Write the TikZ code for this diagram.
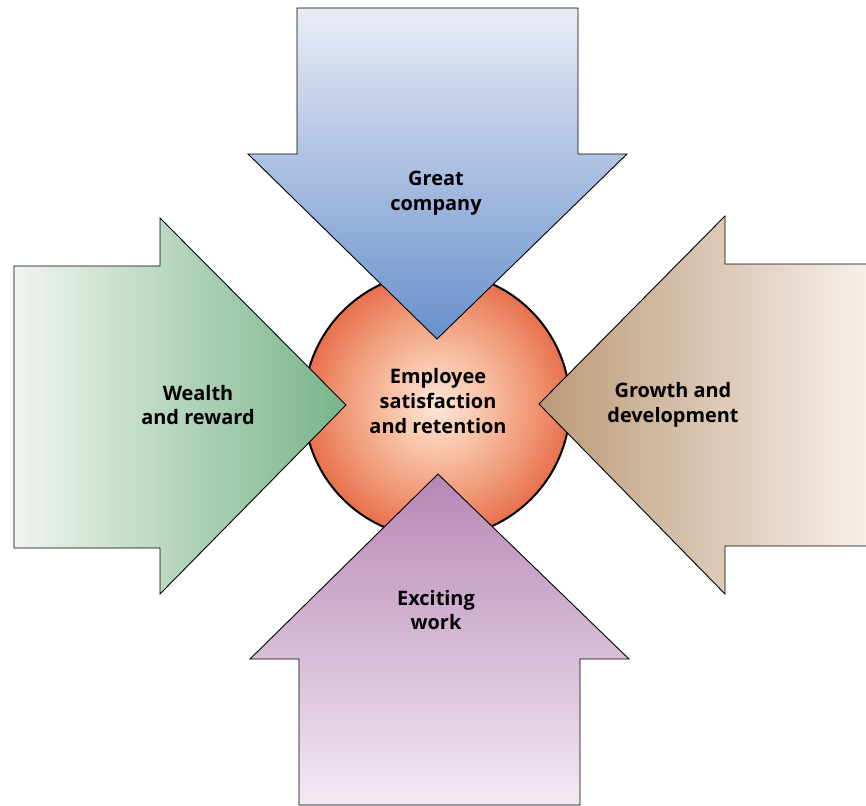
\documentclass[tikz,border=0pt]{standalone}
\usepackage{fontspec}
\setmainfont{Open Sans}

% palette
\definecolor{blueTop}{HTML}{EAECF6}
\definecolor{blueMid}{HTML}{B2C0E2}
\definecolor{blueTip}{HTML}{6890CC}
\definecolor{greenTail}{HTML}{F0F4F0}
\definecolor{greenMid}{HTML}{C6D9C4}
\definecolor{greenTip}{HTML}{78B489}
\definecolor{tanTail}{HTML}{F7F0EB}
\definecolor{tanMid}{HTML}{E1CCB6}
\definecolor{tanTip}{HTML}{BC9A78}
\definecolor{plumTail}{HTML}{F3EAF3}
\definecolor{plumMid}{HTML}{D8B9D8}
\definecolor{plumTip}{HTML}{B786B6}
\definecolor{coreIn}{HTML}{FDE6DA}
\definecolor{coreA}{HTML}{F8C2A6}
\definecolor{coreB}{HTML}{F09C7A}
\definecolor{coreOut}{HTML}{E8704E}

\pgfdeclareradialshading{coreglow}{\pgfpoint{0bp}{0bp}}{%
  color(0bp)=(coreIn); color(9bp)=(coreA); color(17bp)=(coreB);
  color(25bp)=(coreOut); color(50bp)=(coreOut)}

\begin{document}
\begin{tikzpicture}[x=1bp, y=-1bp,
  arrowshape/.style={draw=black, line width=0.9bp, line join=miter},
  arrowtext/.style={font=\bfseries\fontsize{20}{25}\selectfont,
    align=center, text=black, inner sep=0pt}]
\useasboundingbox (0,0) rectangle (866,806);

% central hub
\node[circle, draw=black, line width=2bp, shade, shading=coreglow,
      minimum size=266bp, inner sep=0pt] (core) at (437,405) {};

% arrow from the top
\path[arrowshape, top color=blueTop, middle color=blueMid, bottom color=blueTip]
  (297,8) -- (578,8) -- (578,154) -- (627,154) -- (437,339)
  -- (248,154) -- (297,154) -- cycle;

% arrow from the left
\path[arrowshape, left color=greenTail, middle color=greenMid, right color=greenTip]
  (14,266) -- (160,266) -- (160,218) -- (346,405)
  -- (160,594) -- (160,548) -- (14,548) -- cycle;

% arrow from the right (its tail runs off the page)
\path[arrowshape, left color=tanTip, middle color=tanMid, right color=tanTail]
  (872,264) -- (725,264) -- (725,216) -- (539,404)
  -- (725,594) -- (725,546) -- (872,546) -- cycle;

% arrow from the bottom
\path[arrowshape, top color=plumTip, middle color=plumMid, bottom color=plumTail]
  (438,474) -- (629,659) -- (580,659) -- (580,805)
  -- (299,805) -- (299,659) -- (250,659) -- cycle;

% labels
\node[arrowtext] (centre) at (438,401) {Employee\\satisfaction\\and retention};
\node[arrowtext] (great)  at (436,193) {Great\\company};
\node[arrowtext] (wealth) at (198,405) {Wealth\\and reward};
\node[arrowtext] (growth) at (673,405) {Growth and\\development};
\node[arrowtext] (work)   at (436,610) {Exciting\\work};
\end{tikzpicture}
\end{document}
